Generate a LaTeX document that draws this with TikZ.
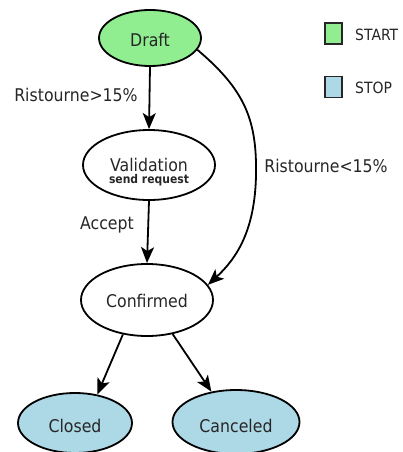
\documentclass[tikz,border=0pt]{standalone}
\usepackage{fontspec}
\setmainfont{DejaVu Sans}[FakeStretch=0.9]
\usetikzlibrary{shapes.geometric,arrows.meta}
\definecolor{startgreen}{HTML}{90EE90}
\definecolor{stopblue}{HTML}{ADD8E6}
\newcommand{\bl}[2]{\makebox[0pt]{\raisebox{-#1pt}[0pt][0pt]{#2}}}
\begin{document}
\begin{tikzpicture}[x=1pt,y=-1pt,
  state/.style={ellipse,draw=black,line width=1.8pt,inner sep=0pt,text=black!85,font=\fontsize{17.5}{20}\selectfont},
  edge/.style={draw=black,line width=1.8pt,-{Stealth[length=16pt,width=13pt,inset=4pt]}},
  lbl/.style={anchor=base,inner sep=0pt,text=black!85,font=\fontsize{17.5}{20}\selectfont},
  legbox/.style={rectangle,draw=black!85,line width=1.2pt,minimum width=17pt,minimum height=21pt,inner sep=0pt},
  legtxt/.style={anchor=west,inner sep=0pt,text=black!85,font=\fontsize{15.5}{18}\selectfont}]
\useasboundingbox (0,0) rectangle (402,452);
\node[state,fill=startgreen,minimum width=102pt,minimum height=56pt] (draft) at (150,38) {\bl{9}{Draft}};
\node[state,minimum width=132pt,minimum height=70pt] (valid) at (149,165) {\bl{6}{Validation}\bl{18}{\fontsize{12}{13}\selectfont\bfseries send request}};
\node[state,minimum width=132pt,minimum height=72pt] (conf) at (147,300) {\bl{7}{Confirmed}};
\node[state,fill=stopblue,minimum width=114pt,minimum height=60pt] (closed) at (75,423) {\bl{9}{Closed}};
\node[state,fill=stopblue,minimum width=127pt,minimum height=64pt] (canc) at (236,422) {\bl{10}{Canceled}};
\node[legbox,fill=startgreen] (lstart) at (333.5,33.5) {};
\node[legtxt] (tstart) at (355,35) {START};
\node[legbox,fill=stopblue] (lstop) at (333.5,87) {};
\node[legtxt] (tstop) at (355,88) {STOP};
\node[lbl] (l1) at (76,101) {Ristourne>15\%};
\node[lbl] (l2) at (107,229) {Accept};
\node[lbl] (l3) at (326,172) {Ristourne<15\%};
\coordinate (mid) at (256,175);
\draw[edge] (draft.south) -- (valid.north);
\draw[edge] (valid.south) -- (conf.north);
\draw[edge] (draft.-14) .. controls (245,90) and (257,120) .. (mid) .. controls (255,230) and (237,258) .. (conf.14);
\draw[edge] (conf.235) -- (closed.52);
\draw[edge] (conf.307) -- (canc.129);
\end{tikzpicture}
\end{document}
